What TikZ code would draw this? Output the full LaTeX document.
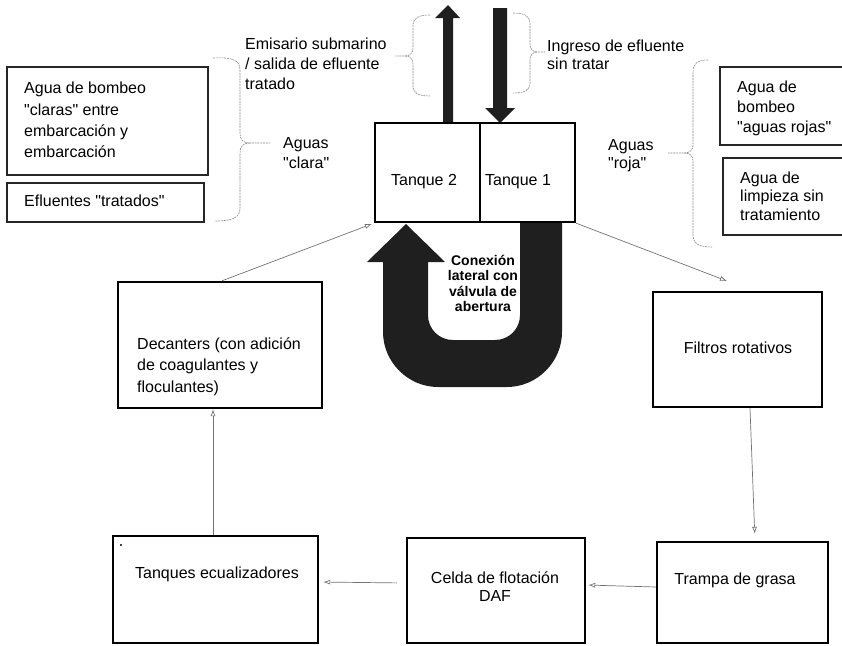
\documentclass[tikz,border=0pt]{standalone}
\usepackage{fontspec}
\setmainfont{Liberation Sans}[Ligatures=TeXOff]
\usetikzlibrary{arrows.meta}
\tikzset{
  bigbox/.style={draw=black, line width=2.4pt, inner sep=0pt, fill=none},
  txtbox/.style={draw=black!85, line width=1.2pt, inner sep=0pt},
  lbl/.style={inner sep=0pt, align=left, font=\fontsize{16}{20}\selectfont},
  clbl/.style={inner sep=0pt, align=center, font=\fontsize{16}{17.5}\selectfont},
  flow/.style={draw=black!55, line width=0.7pt, -{Latex[open,length=7pt,width=5pt]}},
  brace/.style={draw=black!45, line width=0.6pt, dash pattern=on 2pt off 0.8pt},
  bigarrow/.style={fill=black!88, draw=none}
}
\begin{document}
\begin{tikzpicture}[x=1pt,y=-1pt]
\useasboundingbox (0,0) rectangle (842,645);

% left "clara" boxes
\node[txtbox, minimum width=201pt, minimum height=108pt] (cl1) at (107.5,121) {};
\node[lbl, anchor=west, font=\fontsize{16}{21.3}\selectfont] (cl1t) at (24,120) {Agua de bombeo\\"claras" entre\\embarcación y\\embarcación};
\node[txtbox, minimum width=197pt, minimum height=39pt] (cl2) at (105.5,202.5) {};
\node[lbl, anchor=west] (cl2t) at (24,201) {Efluentes "tratados"};

% clara brace
\draw[brace] (213,58) .. controls (232,57) and (240,60) .. (240,70) -- (240,133)
  .. controls (240,140) and (243,143) .. (250,143) -- (270,143);
\draw[brace] (250,143) .. controls (243,143) and (240,146) .. (240,153) -- (240,208)
  .. controls (240,218) and (232,221) .. (215,221);
\node[lbl, anchor=west] (clara) at (283,153) {Aguas\\"clara"};

% emisario text and brace
\node[lbl, anchor=west] (emi) at (245,64) {Emisario submarino\\/ salida de efluente\\tratado};
\draw[brace] (430,15) .. controls (418,15) and (413,18) .. (413,26) -- (413,48)
  .. controls (413,53) and (410,56) .. (405,56) -- (395,56);
\draw[brace] (405,56) .. controls (410,56) and (413,59) .. (413,64) -- (413,86)
  .. controls (413,93) and (418,96) .. (430,96);

% ingreso brace and text
\draw[brace] (513,13) .. controls (525,13) and (530,16) .. (530,24) -- (530,44)
  .. controls (530,49) and (533,52) .. (537,52) -- (545,52);
\draw[brace] (537,52) .. controls (533,52) and (530,55) .. (530,60) -- (530,83)
  .. controls (530,90) and (525,93) .. (513,93);
\node[lbl, anchor=west, font=\fontsize{16}{18}\selectfont] (ing) at (547,55) {Ingreso de efluente\\sin tratar};

% roja text and brace
\node[lbl, anchor=west, font=\fontsize{16}{18}\selectfont] (roja) at (608,156) {Aguas\\"roja"};
\draw[brace] (708,60) .. controls (697,60) and (693,64) .. (693,72) -- (693,145)
  .. controls (693,150) and (690,153) .. (684,153) -- (668,153);
\draw[brace] (684,153) .. controls (690,153) and (693,156) .. (693,161) -- (693,235)
  .. controls (693,243) and (698,247) .. (712,247);

% right roja boxes
\node[txtbox, minimum width=123pt, minimum height=78pt] (ro1) at (781.5,106) {};
\node[lbl, anchor=west] (ro1t) at (737,108) {Agua de\\bombeo\\"aguas rojas"};
\node[txtbox, minimum width=120pt, minimum height=77pt] (ro2) at (783,196.5) {};
\node[lbl, anchor=west, font=\fontsize{16}{18.5}\selectfont] (ro2t) at (740,196) {Agua de\\limpieza sin\\tratamiento};

% big arrows top
\fill[bigarrow] (443,123) -- (443,18) -- (435,18) -- (448,5) -- (460,18) -- (453,18) -- (453,123) -- cycle;
\fill[bigarrow] (493,8) -- (507,8) -- (507,108) -- (515,108) -- (500,123) -- (485,108) -- (493,108) -- cycle;

% U arrow
\fill[bigarrow] (562,222) -- (562,332) .. controls (562,362) and (537,387) .. (507,387)
  -- (438,387) .. controls (408,387) and (383,362) .. (383,332) -- (383,262)
  -- (367,262) -- (406,224) -- (445,262) -- (428,262) -- (428,315)
  .. controls (428,329) and (439,340) .. (453,340) -- (495,340)
  .. controls (509,340) and (520,329) .. (520,315) -- (520,222) -- cycle;
\node[inner sep=0pt, align=center, font=\bfseries\fontsize{14}{15.6}\selectfont] (con) at (483,283.5) {Conexión\\lateral con\\válvula de\\abertura};

% tanks
\node[bigbox, minimum width=105pt, minimum height=99pt] (tank2) at (427.5,172.5) {};
\node[bigbox, minimum width=95pt, minimum height=99pt] (tank1) at (527.5,172.5) {};
\node[lbl] (t2t) at (424,182) {Tanque 2};
\node[lbl] (t1t) at (518,182) {Tanque 1};

% process boxes
\node[bigbox, minimum width=204pt, minimum height=126pt] (dec) at (220,345) {};
\node[lbl, anchor=west, font=\fontsize{16}{21.5}\selectfont] (dect) at (137,366.5) {Decanters (con adición\\de coagulantes y\\floculantes)};
\node[bigbox, minimum width=169pt, minimum height=115pt] (fil) at (737.5,349.5) {};
\node[lbl] (filt) at (738,348) {Filtros rotativos};
\node[bigbox, minimum width=205pt, minimum height=107pt] (tan) at (215.5,589.5) {};
\node[lbl] (tant) at (217,574) {Tanques ecualizadores};
\fill (121,545) circle (1.2pt);
\node[bigbox, minimum width=178pt, minimum height=105pt] (cel) at (496,590.5) {};
\node[clbl] (celt) at (495,586.5) {Celda de flotación\\DAF};
\node[bigbox, minimum width=171pt, minimum height=101pt] (tra) at (742.5,592.5) {};
\node[lbl] (trat) at (735,580) {Trampa de grasa};

% connectors
\coordinate (filin) at (727,281);
\draw[flow] (tank1.south east) -- (filin);
\draw[flow, shorten >=7pt] ([xshift=12.5pt]fil.south) -- ([xshift=12.5pt]tra.north);
\draw[flow, shorten >=2pt] ([yshift=5.5pt]tra.west) -- ([yshift=5.5pt]cel.east);
\draw[flow, shorten <=9pt, shorten >=4pt] ([yshift=7.5pt]cel.west) -- ([yshift=7.5pt]tan.east);
\draw[flow] ([xshift=-2.5pt]tan.north) -- ([xshift=-7pt]dec.south);
\draw[flow, shorten >=2pt] ([xshift=2pt]dec.north) -- (tank2.south west);
\end{tikzpicture}
\end{document}
